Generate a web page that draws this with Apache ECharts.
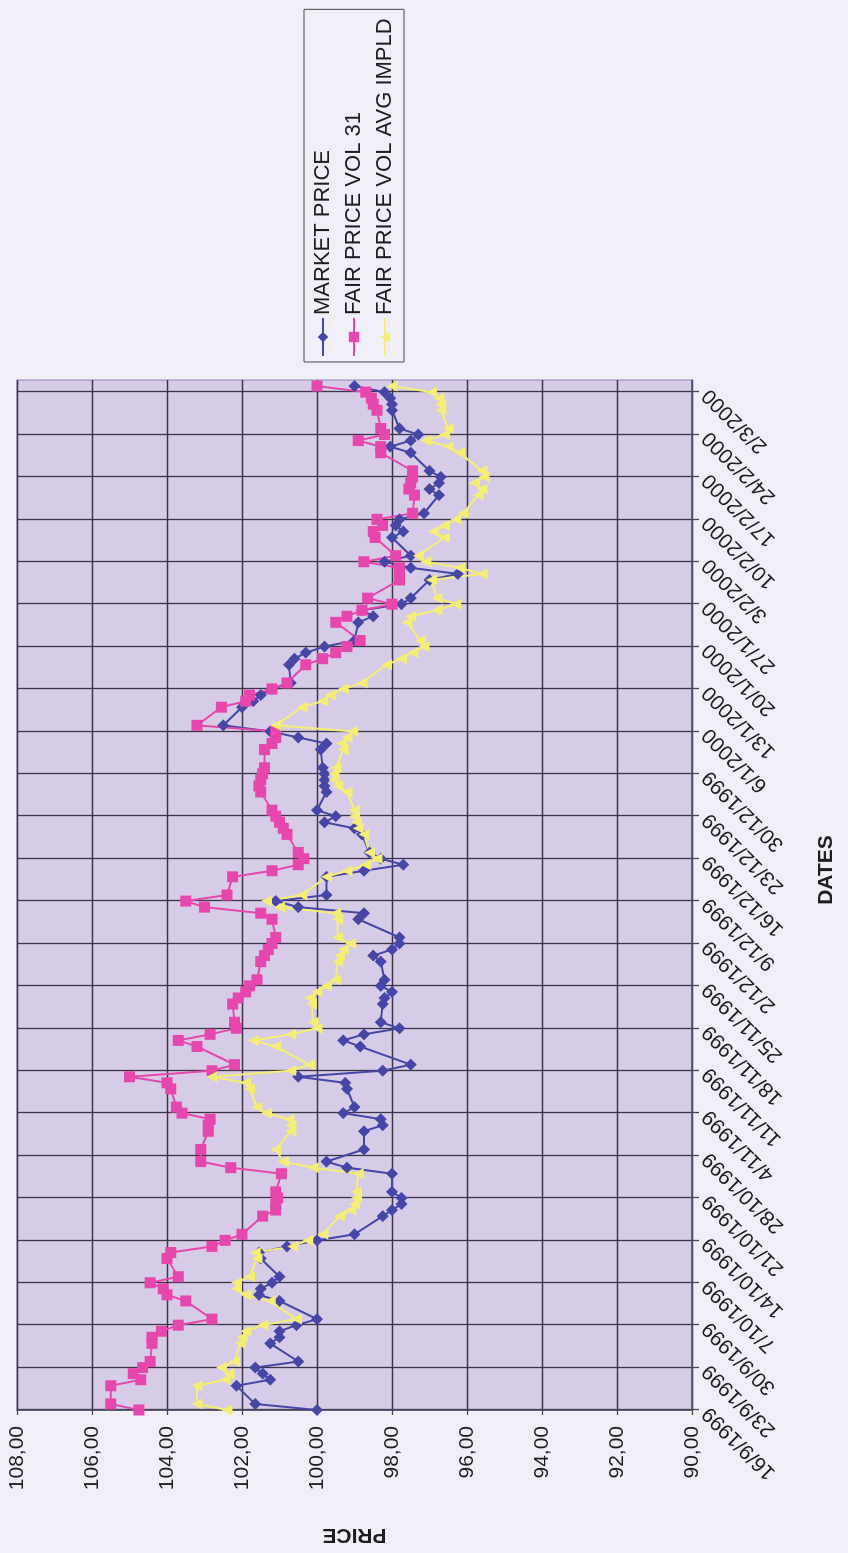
<!DOCTYPE html>
<html>
<head>
<meta charset="utf-8">
<script src="https://cdn.jsdelivr.net/npm/echarts@6/dist/echarts.min.js"></script>
<style>
  html, body { margin: 0; padding: 0; width: 848px; height: 1553px; overflow: hidden; background: #f0eff7; }
  /* the chart is laid out landscape and turned a quarter turn to stand upright on the page */
  #chart { position: absolute; left: 0; top: 0; width: 1553px; height: 848px;
           transform-origin: 0 0; transform: matrix(0, -1, 1, 0, 0, 1553); }
</style>
</head>
<body>
<div id="chart"></div>
<script>
// trading days (d/m/yyyy)
const dates = [
  '16/9/1999','17/9/1999','20/9/1999','21/9/1999','22/9/1999',
  '23/9/1999','24/9/1999','27/9/1999','28/9/1999','29/9/1999',
  '30/9/1999','1/10/1999','4/10/1999','5/10/1999','6/10/1999',
  '7/10/1999','8/10/1999','11/10/1999','12/10/1999','13/10/1999',
  '14/10/1999','15/10/1999','18/10/1999','19/10/1999','20/10/1999',
  '21/10/1999','22/10/1999','25/10/1999','26/10/1999','27/10/1999',
  '29/10/1999','1/11/1999','2/11/1999','3/11/1999',
  '4/11/1999','5/11/1999','8/11/1999','9/11/1999','10/11/1999',
  '11/11/1999','12/11/1999','15/11/1999','16/11/1999','17/11/1999',
  '18/11/1999','19/11/1999','22/11/1999','23/11/1999','24/11/1999',
  '25/11/1999','26/11/1999','29/11/1999','30/11/1999','1/12/1999',
  '2/12/1999','3/12/1999','6/12/1999','7/12/1999','8/12/1999',
  '9/12/1999','10/12/1999','13/12/1999','14/12/1999','15/12/1999',
  '16/12/1999','17/12/1999','20/12/1999','21/12/1999','22/12/1999',
  '23/12/1999','24/12/1999','27/12/1999','28/12/1999','29/12/1999',
  '30/12/1999','31/12/1999','3/1/2000','4/1/2000','5/1/2000',
  '6/1/2000','7/1/2000','10/1/2000','11/1/2000','12/1/2000',
  '13/1/2000','14/1/2000','17/1/2000','18/1/2000','19/1/2000',
  '20/1/2000','21/1/2000','24/1/2000','25/1/2000','26/1/2000',
  '27/1/2000','28/1/2000','31/1/2000','1/2/2000','2/2/2000',
  '3/2/2000','4/2/2000','7/2/2000','8/2/2000','9/2/2000',
  '10/2/2000','11/2/2000','14/2/2000','15/2/2000','16/2/2000',
  '17/2/2000','18/2/2000','21/2/2000','22/2/2000','23/2/2000',
  '24/2/2000','25/2/2000','28/2/2000','29/2/2000','1/3/2000',
  '2/3/2000','3/3/2000'
];

const marketPrice = [
  100.0, 101.65, 102.15, 101.25, 101.45,
  101.65, 100.5, 101.25, 101.0, 101.0,
  100.55, 100.0, 101.0, 101.55, 101.5,
  101.2, 101.0, 101.5, 101.55, 100.8,
  100.0, 99.0, 98.25, 98.0, 97.75,
  97.75, 98.0, 98.0, 99.2, 99.75,
  98.75, 98.75, 98.25, 98.3,
  99.3, 99.0, 99.2, 99.25, 100.5,
  98.25, 97.5, 98.85, 99.3, 98.75,
  97.8, 98.3, 98.25, 98.2, 98.0,
  98.3, 98.2, 98.3, 98.5, 98.0,
  97.8, 97.8, 98.9, 98.75, 100.5,
  101.1, 99.75, 99.75, 98.75, 97.7,
  98.3, 98.6, 98.8, 99.0, 99.8,
  99.5, 100.0, 99.75, 99.8, 99.8,
  99.8, 99.85, 99.9, 99.75, 100.5,
  101.25, 102.5, 102.0, 101.7, 101.5,
  101.2, 100.7, 100.75, 100.6, 100.3,
  99.8, 99.0, 98.9, 98.5, 98.8,
  97.75, 97.5, 97.0, 96.25, 97.5,
  98.2, 97.5, 98.0, 97.7, 97.9,
  97.8, 97.15, 96.75, 97.0, 96.75,
  96.7, 97.0, 97.5, 98.05, 97.5,
  97.3, 97.8, 98.0, 98.0, 98.05,
  98.2, 99.0
];

const fairPriceVol31 = [
  104.75, 105.5, 105.5, 104.7, 104.9,
  104.65, 104.45, 104.4, 104.4, 104.15,
  103.7, 102.8, 103.5, 104.0, 104.1,
  104.45, 103.7, 104.0, 103.9, 102.8,
  102.45, 102.0, 101.45, 101.1, 101.1,
  101.05, 101.1, 100.95, 102.3, 103.1,
  103.1, 102.9, 102.9, 102.85,
  103.6, 103.75, 103.9, 104.0, 105.0,
  102.8, 102.2, 103.2, 103.7, 102.85,
  102.15, 102.2, 102.25, 102.1, 101.9,
  101.8, 101.6, 101.5, 101.4, 101.3,
  101.2, 101.1, 101.2, 101.5, 103.0,
  103.5, 102.4, 102.25, 101.2, 100.5,
  100.35, 100.5, 100.8, 100.9, 101.0,
  101.1, 101.2, 101.5, 101.55, 101.5,
  101.45, 101.4, 101.4, 101.2, 101.1,
  101.1, 103.2, 102.55, 101.9, 101.8,
  101.2, 100.8, 100.3, 99.85, 99.5,
  99.2, 98.85, 99.5, 99.2, 98.8,
  98.0, 98.65, 97.8, 97.8, 97.8,
  98.75, 97.9, 98.45, 98.5, 98.25,
  98.4, 97.45, 97.4, 97.55, 97.5,
  97.45, 97.45, 98.3, 98.3, 98.9,
  98.2, 98.3, 98.4, 98.5, 98.55,
  98.7, 100.0
];

const fairPriceVolAvgImpld = [
  102.4, 103.2, 103.2, 102.45, 102.35,
  102.55, 102.2, 102.05, 102.0, 101.9,
  101.45, 100.55, 101.25, 101.9, 102.15,
  102.15, 101.8, 101.6, 101.65, 100.65,
  100.25, 99.85, 99.4, 99.1, 99.0,
  98.95, 98.95, 98.9, 100.1, 100.9,
  101.1, 100.7, 100.7, 100.75,
  101.35, 101.6, 101.8, 101.9, 102.8,
  100.7, 100.2, 101.1, 101.7, 100.7,
  100.0, 100.1, 100.15, 100.2, 100.0,
  99.75, 99.5, 99.45, 99.4, 99.3,
  99.1, 99.45, 99.45, 99.5, 101.0,
  101.35, 100.4, 99.75, 99.2, 98.7,
  98.4, 98.6, 98.75, 98.9, 98.95,
  99.0, 99.0, 99.2, 99.45, 99.55,
  99.55, 99.5, 99.3, 99.35, 99.2,
  99.05, 101.1, 100.4, 99.85, 99.65,
  99.3, 98.8, 98.15, 97.75, 97.45,
  97.15, 97.25, 97.6, 97.5, 96.8,
  96.3, 96.8, 96.95, 95.6, 96.2,
  97.1, 97.3, 96.6, 96.9, 96.6,
  96.3, 96.1, 95.7, 95.6, 95.8,
  95.55, 95.6, 96.2, 96.5, 97.1,
  96.6, 96.5, 96.7, 96.7, 96.75,
  96.95, 98.0
];

const seriesNames = ['MARKET PRICE', 'FAIR PRICE VOL 31', 'FAIR PRICE VOL AVG IMPLD'];
const axisStart = '16/9/1999';
const axisEnd = '4/3/2000';
const dayStep = 7;
const priceMin = 90, priceMax = 108, priceStep = 2;

const DAY = 86400000;
function parseDmy(s) {
  const p = s.split('/').map(Number);
  return Date.UTC(p[2], p[1] - 1, p[0]);
}
const t0 = parseDmy(axisStart);
const dayOf = s => Math.round((parseDmy(s) - t0) / DAY);
const lastDay = dayOf(axisEnd);
const dayIdx = dates.map(dayOf);

function dmyLabel(d) {
  const t = new Date(t0 + d * DAY);
  return t.getUTCDate() + '/' + (t.getUTCMonth() + 1) + '/' + t.getUTCFullYear();
}
const weekTicks = [];
for (let d = 0; d <= lastDay; d += dayStep) weekTicks.push(d);

const font = "'Liberation Sans', Arial, sans-serif";
const gridColor = '#3b3647';

function lineSeries(name, values, symbol, color, size) {
  return {
    name: name,
    type: 'line',
    data: values.map((v, i) => [dayIdx[i], v]),
    symbol: symbol,
    symbolSize: size,
    showSymbol: true,
    lineStyle: { color: color, width: 2 },
    itemStyle: { color: color, borderWidth: 0 },
    emphasis: { disabled: true }
  };
}

const chart = echarts.init(document.getElementById('chart'), null, { renderer: 'canvas' });
chart.setOption({
  animation: false,
  backgroundColor: '#f0eff7',
  textStyle: { fontFamily: font, color: '#1e1e1e' },
  grid: {
    left: 143, right: 380, top: 17, bottom: 156,
    show: true, backgroundColor: '#d7cce8', borderColor: '#8f84b0', borderWidth: 1
  },
  legend: {
    orient: 'vertical',
    left: 1191, top: 304,
    padding: [8, 9, 8, 5],
    itemGap: 9,
    itemWidth: 38, itemHeight: 13,
    borderColor: '#4a4a4a', borderWidth: 1,
    textStyle: { fontFamily: font, fontSize: 22, color: '#1e1e1e', padding: [0, 0, 0, -2] },
    data: seriesNames
  },
  xAxis: {
    type: 'value',
    min: 0, max: lastDay, interval: dayStep,
    axisLine: { show: true, onZero: false, lineStyle: { color: '#5e5475', width: 1.5 } },
    axisTick: { show: true, length: 7, customValues: weekTicks, lineStyle: { color: '#4a4458', width: 1.3 } },
    axisLabel: {
      rotate: 45, margin: 14, fontSize: 21, fontFamily: font, color: '#1e1e1e',
      customValues: weekTicks,
      formatter: v => (v % dayStep === 0 && v < lastDay) ? dmyLabel(v) : ''
    },
    splitLine: { show: true, lineStyle: { color: gridColor, width: 1.3 } },
    name: 'DATES', nameLocation: 'middle', nameGap: 124,
    nameTextStyle: { fontFamily: font, fontSize: 21, fontWeight: 'bold', color: '#1e1e1e', padding: [0, 0, 0, 50] }
  },
  yAxis: {
    type: 'value',
    min: priceMin, max: priceMax, interval: priceStep,
    axisLine: { show: true, lineStyle: { color: '#4a4458', width: 1.5 } },
    axisTick: { show: true, length: 5, lineStyle: { color: '#4a4458', width: 1.3 } },
    axisLabel: {
      margin: 16, fontSize: 21, fontFamily: font, color: '#1e1e1e',
      formatter: v => v.toFixed(2).replace('.', ',')
    },
    splitLine: { show: true, lineStyle: { color: gridColor, width: 1.3 } },
    name: 'PRICE', nameLocation: 'middle', nameGap: 114, nameRotate: 90,
    nameTextStyle: { fontFamily: font, fontSize: 21, fontWeight: 'bold', color: '#1e1e1e' }
  },
  series: [
    lineSeries(seriesNames[0], marketPrice, 'diamond', '#4646a6', 12),
    lineSeries(seriesNames[1], fairPriceVol31, 'rect', '#e647ad', 11),
    lineSeries(seriesNames[2], fairPriceVolAvgImpld, 'triangle', '#f4ee74', 11)
  ]
});
</script>
</body>
</html>
